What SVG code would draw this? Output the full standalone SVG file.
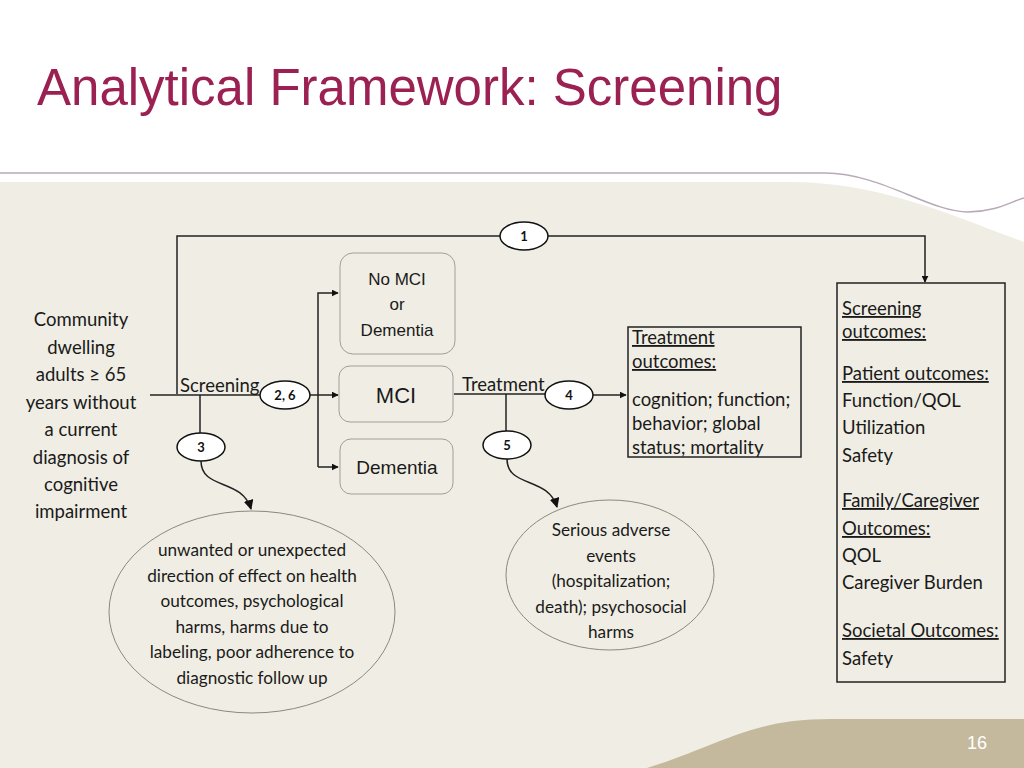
<svg xmlns="http://www.w3.org/2000/svg" width="1024" height="768" viewBox="0 0 1024 768">
<defs>
<style>
.t{font-family:"Lato","Open Sans","Liberation Sans",sans-serif;font-size:18.5px;fill:#1a1a1a}
.t.s{font-size:17.2px}
.c{text-anchor:middle}
.u{text-decoration:underline}
.a{font-family:"Liberation Sans",Arial,sans-serif;fill:#1a1a1a;text-anchor:middle}
.ln{stroke:#222;stroke-width:1.5;fill:none}
.rb{fill:none;stroke:#a09e98;stroke-width:1}
.bx{fill:none;stroke:#222;stroke-width:1.5}
.ov{fill:#fff;stroke:#111;stroke-width:1.5}
.ol{font-family:"Lato","Open Sans","Liberation Sans",sans-serif;font-size:13px;font-weight:bold;fill:#111;text-anchor:middle}
.el{fill:none;stroke:#8a8880;stroke-width:1}
</style>
<marker id="ar" viewBox="0 0 10 10" refX="9" refY="5" markerWidth="7" markerHeight="7" orient="auto" markerUnits="userSpaceOnUse">
<path d="M0,0 L10,5 L0,10 z" fill="#111"/>
</marker>
<marker id="ar2" viewBox="0 0 10 10" refX="9" refY="5" markerWidth="10" markerHeight="10" orient="auto" markerUnits="userSpaceOnUse">
<path d="M0,0 L10,5 L0,10 z" fill="#111"/>
</marker>
</defs>
<g id="background">
<rect width="1024" height="768" fill="#ffffff"/>
<path d="M0,182 L790,182 C880,182 950,215 1024,242 L1024,768 L0,768 z" fill="#f0eee4"/>
<path d="M647,768 C720,745 750,719 830,719 L1024,719 L1024,768 z" fill="#c4b99c"/>
<path d="M0,173 L825,173 C880,173 930,212 968,212 C995,212 1010,202 1024,198" fill="none" stroke="#b9a9b6" stroke-width="1.5"/>
<text x="37" y="105" font-family="Liberation Sans, Arial, sans-serif" font-size="51" fill="#9b2152">Analytical Framework: Screening</text>
<text x="977" y="749" font-family="Liberation Sans, Arial, sans-serif" font-size="18" fill="#ffffff" text-anchor="middle">16</text>
</g>
<g id="connectors">
<path class="ln" d="M177,394 L177,236 L500,236"/>
<path class="ln" d="M548,236 L925,236 L925,282" marker-end="url(#ar)"/>
<path class="ln" d="M150,395 L260,395"/>
<path class="ln" d="M310,395 L338,395" marker-end="url(#ar)"/>
<path class="ln" d="M318,467 L318,293 L338,293" marker-end="url(#ar)"/>
<path class="ln" d="M318,467 L338,467" marker-end="url(#ar)"/>
<path class="ln" d="M200,395 L200,433"/>
<path class="ln" d="M201,461 C201,490 242,478 251,509" marker-end="url(#ar2)"/>
<path class="ln" d="M454,394 L545,394"/>
<path class="ln" d="M593,395 L626,395" marker-end="url(#ar)"/>
<path class="ln" d="M506,394 L506,431"/>
<path class="ln" d="M507,459 C507,488 548,476 557,507" marker-end="url(#ar2)"/>
</g>
<g id="n1"><ellipse class="ov" cx="524" cy="236" rx="24" ry="14"/><text class="ol" x="524" y="241">1</text></g>
<g id="n26"><ellipse class="ov" cx="285" cy="395" rx="25" ry="14"/><text class="ol" x="285" y="400">2, 6</text></g>
<g id="n3"><ellipse class="ov" cx="201" cy="447" rx="24" ry="14"/><text class="ol" x="201" y="452">3</text></g>
<g id="n4"><ellipse class="ov" cx="569" cy="395" rx="24" ry="14"/><text class="ol" x="569" y="400">4</text></g>
<g id="n5"><ellipse class="ov" cx="507" cy="445" rx="24" ry="14"/><text class="ol" x="507" y="450">5</text></g>
<g id="population">
<text class="t c" x="81" y="326">Community</text>
<text class="t c" x="81" y="354">dwelling</text>
<text class="t c" x="81" y="381">adults ≥ 65</text>
<text class="t c" x="81" y="409">years without</text>
<text class="t c" x="81" y="436">a current</text>
<text class="t c" x="81" y="464">diagnosis of</text>
<text class="t c" x="81" y="491">cognitive</text>
<text class="t c" x="81" y="518">impairment</text>
</g>
<g id="screening-label"><text class="t" x="180" y="392">Screening</text></g>
<g id="treatment-label"><text class="t" x="462" y="391">Treatment</text></g>
<g id="nomci">
<rect class="rb" x="340" y="253" width="115" height="101" rx="13"/>
<text class="a" x="397" y="285" font-size="17">No MCI</text>
<text class="a" x="397" y="310" font-size="17">or</text>
<text class="a" x="397" y="336" font-size="17">Dementia</text>
</g>
<g id="mci">
<rect class="rb" x="339" y="366" width="114" height="56" rx="11"/>
<text class="a" x="396" y="403" font-size="22">MCI</text>
</g>
<g id="dementia">
<rect class="rb" x="340" y="439" width="113" height="55" rx="11"/>
<text class="a" x="397" y="474" font-size="19">Dementia</text>
</g>
<g id="treatment-outcomes">
<rect class="bx" x="628" y="327" width="173" height="130"/>
<text class="t u" x="632" y="344">Treatment</text>
<text class="t u" x="632" y="368">outcomes:</text>
<text class="t" x="632" y="406">cognition; function;</text>
<text class="t" x="632" y="430">behavior; global</text>
<text class="t" x="632" y="454">status; mortality</text>
</g>
<g id="screening-outcomes">
<rect class="bx" x="837" y="283" width="168" height="399"/>
<text class="t u" x="842" y="315">Screening</text>
<text class="t u" x="842" y="338">outcomes:</text>
<text class="t u" x="842" y="380">Patient outcomes:</text>
<text class="t" x="842" y="407">Function/QOL</text>
<text class="t" x="842" y="434">Utilization</text>
<text class="t" x="842" y="462">Safety</text>
<text class="t u" x="842" y="507">Family/Caregiver</text>
<text class="t u" x="842" y="535">Outcomes:</text>
<text class="t" x="842" y="562">QOL</text>
<text class="t" x="842" y="589">Caregiver Burden</text>
<text class="t u" x="842" y="637">Societal Outcomes:</text>
<text class="t" x="842" y="665">Safety</text>
</g>
<g id="harms-screening">
<ellipse class="el" cx="252" cy="612" rx="143" ry="101"/>
<text class="t s c" x="252" y="556">unwanted or unexpected</text>
<text class="t s c" x="252" y="582">direction of effect on health</text>
<text class="t s c" x="252" y="607">outcomes, psychological</text>
<text class="t s c" x="252" y="633">harms, harms due to</text>
<text class="t s c" x="252" y="658">labeling, poor adherence to</text>
<text class="t s c" x="252" y="684">diagnostic follow up</text>
</g>
<g id="harms-treatment">
<ellipse class="el" cx="610" cy="575" rx="104" ry="75"/>
<text class="t s c" x="611" y="536">Serious adverse</text>
<text class="t s c" x="611" y="562">events</text>
<text class="t s c" x="611" y="587">(hospitalization;</text>
<text class="t s c" x="611" y="613">death); psychosocial</text>
<text class="t s c" x="611" y="638">harms</text>
</g>
</svg>
